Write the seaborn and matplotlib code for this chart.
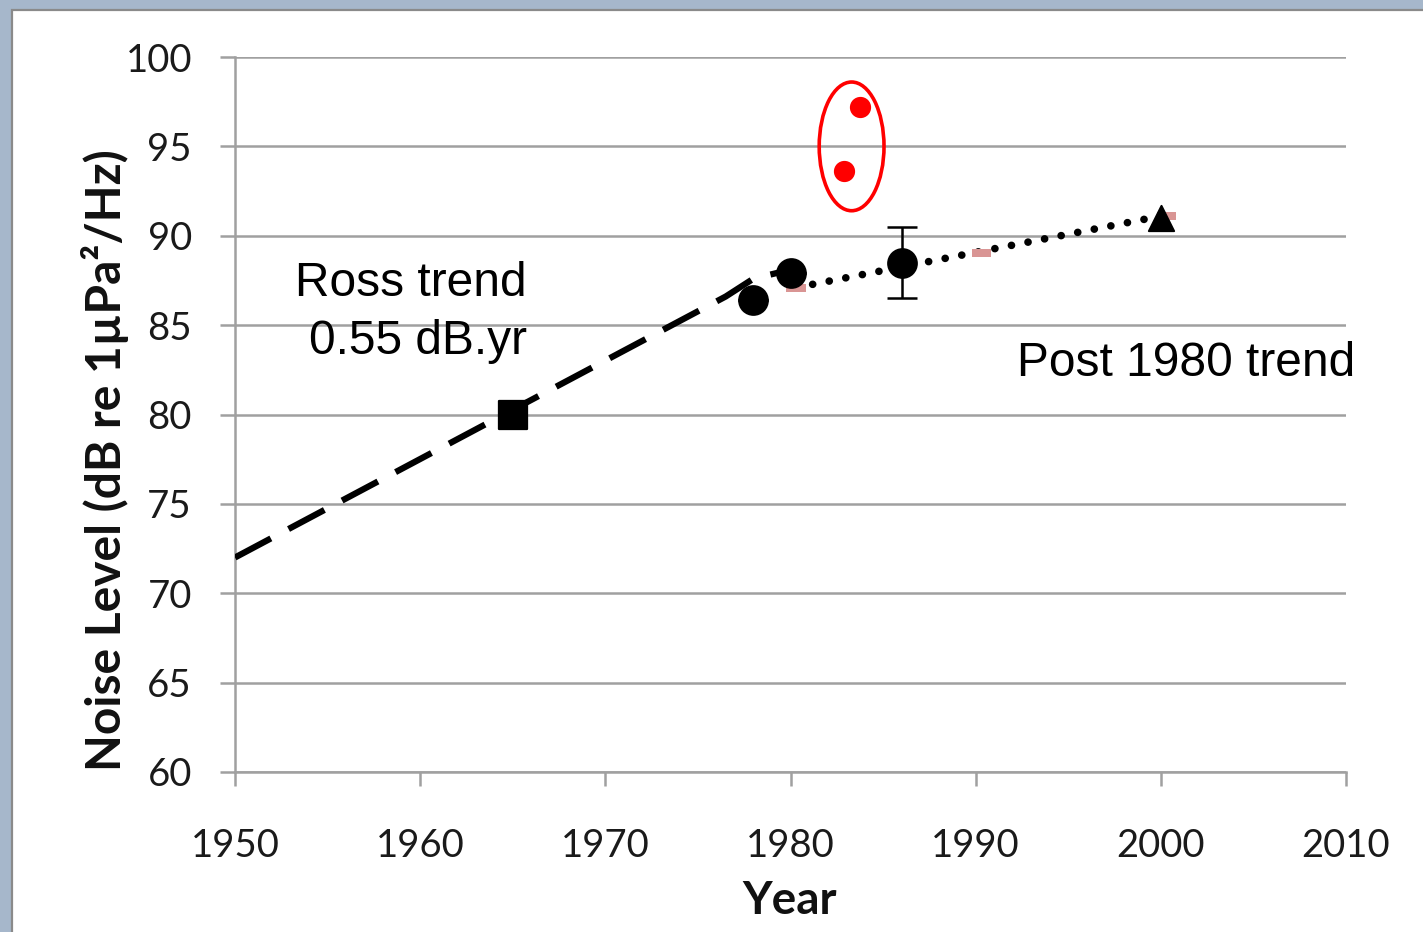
import matplotlib
matplotlib.use("Agg")
import matplotlib.pyplot as plt
import seaborn as sns
import pandas as pd
from matplotlib.patches import Ellipse, Rectangle

# ---- data ----
ross_years = [1950, 1976.5, 1978, 1980]
ross_levels = [72.0, 86.6, 87.6, 88.1]

square_year = [1965]
square_level = [80.0]

circle_years = [1978, 1980, 1986]
circle_levels = [86.4, 87.9, 88.5]
circle_err = [0, 0, 2.0]

triangle_year = [2000]
triangle_level = [91.0]

red_years = [1983.75, 1982.9]
red_levels = [97.2, 93.6]

post_years = [1980.3, 2000]
post_levels = [87.1, 91.1]

pink_years = [1980.3, 1990.3, 2000.3]
pink_levels = [87.1, 89.05, 91.1]

x_ticks = [1950, 1960, 1970, 1980, 1990, 2000, 2010]
y_ticks = [60, 65, 70, 75, 80, 85, 90, 95, 100]

sns.set_style("white")

fig = plt.figure(figsize=(14.23, 9.32), dpi=100)
fig.patch.set_facecolor("#a6b7cb")
# white panel with grey border
fig.patches.append(Rectangle((12/1423, -0.05), 1.1, 1 - 10/932 + 0.05,
                             transform=fig.transFigure, facecolor="white",
                             edgecolor="#8a8a8a", linewidth=1.6, zorder=-5))

ax = fig.add_axes([235/1423, 1 - 772/932, (1346-235)/1423, (772-57)/932])
ax.set_facecolor("none")
ax.set_zorder(2)

grid_c = "#a0a0a0"
for y in y_ticks:
    ax.axhline(y, color=grid_c, lw=1.8, zorder=1)

# Ross trend dashed line
sns.lineplot(x=ross_years, y=ross_levels, ax=ax, color="black", lw=4.5,
             dashes=False, sort=False, zorder=3)
ax.lines[-1].set_linestyle((0, (6.5, 3.2)))

# post-1980 dotted trend
sns.lineplot(x=post_years, y=post_levels, ax=ax, color="black", lw=5.5,
             sort=False, zorder=3)
ax.lines[-1].set_linestyle((0, (0.01, 2.2)))
ax.lines[-1].set_dash_capstyle("round")

# pink trend markers
pink_marker = [(-1, -0.42), (1, -0.42), (1, 0.42), (-1, 0.42)]
sns.scatterplot(x=pink_years, y=pink_levels, ax=ax, marker=pink_marker,
                s=190, color="#d99594", edgecolor="none", zorder=4)

# square
sns.scatterplot(x=square_year, y=square_level, ax=ax, marker="s", s=420,
                color="black", edgecolor="black", zorder=5)

# circles with error bar
ax.errorbar(circle_years, circle_levels, yerr=circle_err, fmt="none",
            ecolor="black", elinewidth=1.8, capsize=11, capthick=1.8, zorder=4)
sns.scatterplot(x=circle_years, y=circle_levels, ax=ax, marker="o", s=420,
                color="black", edgecolor="black", zorder=5)

# triangle
sns.scatterplot(x=triangle_year, y=triangle_level, ax=ax, marker="^", s=330,
                color="black", edgecolor="black", zorder=5)

# red points + ellipse
sns.scatterplot(x=red_years, y=red_levels, ax=ax, marker="o", s=200,
                color="#ff0000", edgecolor="#ff0000", zorder=5)
ax.add_patch(Ellipse((1983.3, 95.0), 3.5, 7.2, facecolor="none",
                     edgecolor="#ff0000", lw=2.6, zorder=5, clip_on=False))

ax.set_xlim(1950, 2010)
ax.set_ylim(60, 100)
ax.set_xticks(x_ticks)
ax.set_yticks(y_ticks)
ax.set_xticklabels([str(t) for t in x_ticks])
ax.set_yticklabels([str(t) for t in y_ticks])

for s in ["top", "right"]:
    ax.spines[s].set_visible(False)
for s in ["left", "bottom"]:
    ax.spines[s].set_color(grid_c)
    ax.spines[s].set_linewidth(1.8)

ax.tick_params(axis="both", which="major", direction="out", color=grid_c,
               width=1.8, labelsize=27.5, labelcolor="#1a1a1a")
ax.tick_params(axis="y", length=11, pad=20, left=True)
ax.tick_params(axis="x", length=10, pad=30, bottom=True)
for lab in ax.get_xticklabels() + ax.get_yticklabels():
    lab.set_family("Lato")

ax.set_xlabel("Year", fontsize=33, fontweight="bold", family="Lato",
              color="#111111")
ax.xaxis.set_label_coords((790 - 235) / 1111, (772 - 901) / 715, transform=ax.transAxes)
ax.xaxis.label.set_va("center")
ax.set_ylabel("Noise Level (dB re 1\u00b5Pa\u00b2/Hz)", fontsize=34.5,
              fontweight="bold", family="Lato", color="#111111")
ax.yaxis.set_label_coords((105 - 235) / 1111, (772 - 460) / 715, transform=ax.transAxes)
ax.yaxis.label.set_va("center")

txt_kw = dict(fontsize=34.5, family="Liberation Sans", color="black")
fig.text(527/1423, 1 - 283/932, "Ross trend", ha="right", va="center", **txt_kw)
fig.text(527/1423, 1 - 341/932, "0.55 dB.yr", ha="right", va="center", **txt_kw)
fig.text(1017/1423, 1 - 364/932, "Post 1980 trend", ha="left", va="center", **txt_kw)

fig.savefig("out.png", dpi=100, facecolor=fig.get_facecolor())
